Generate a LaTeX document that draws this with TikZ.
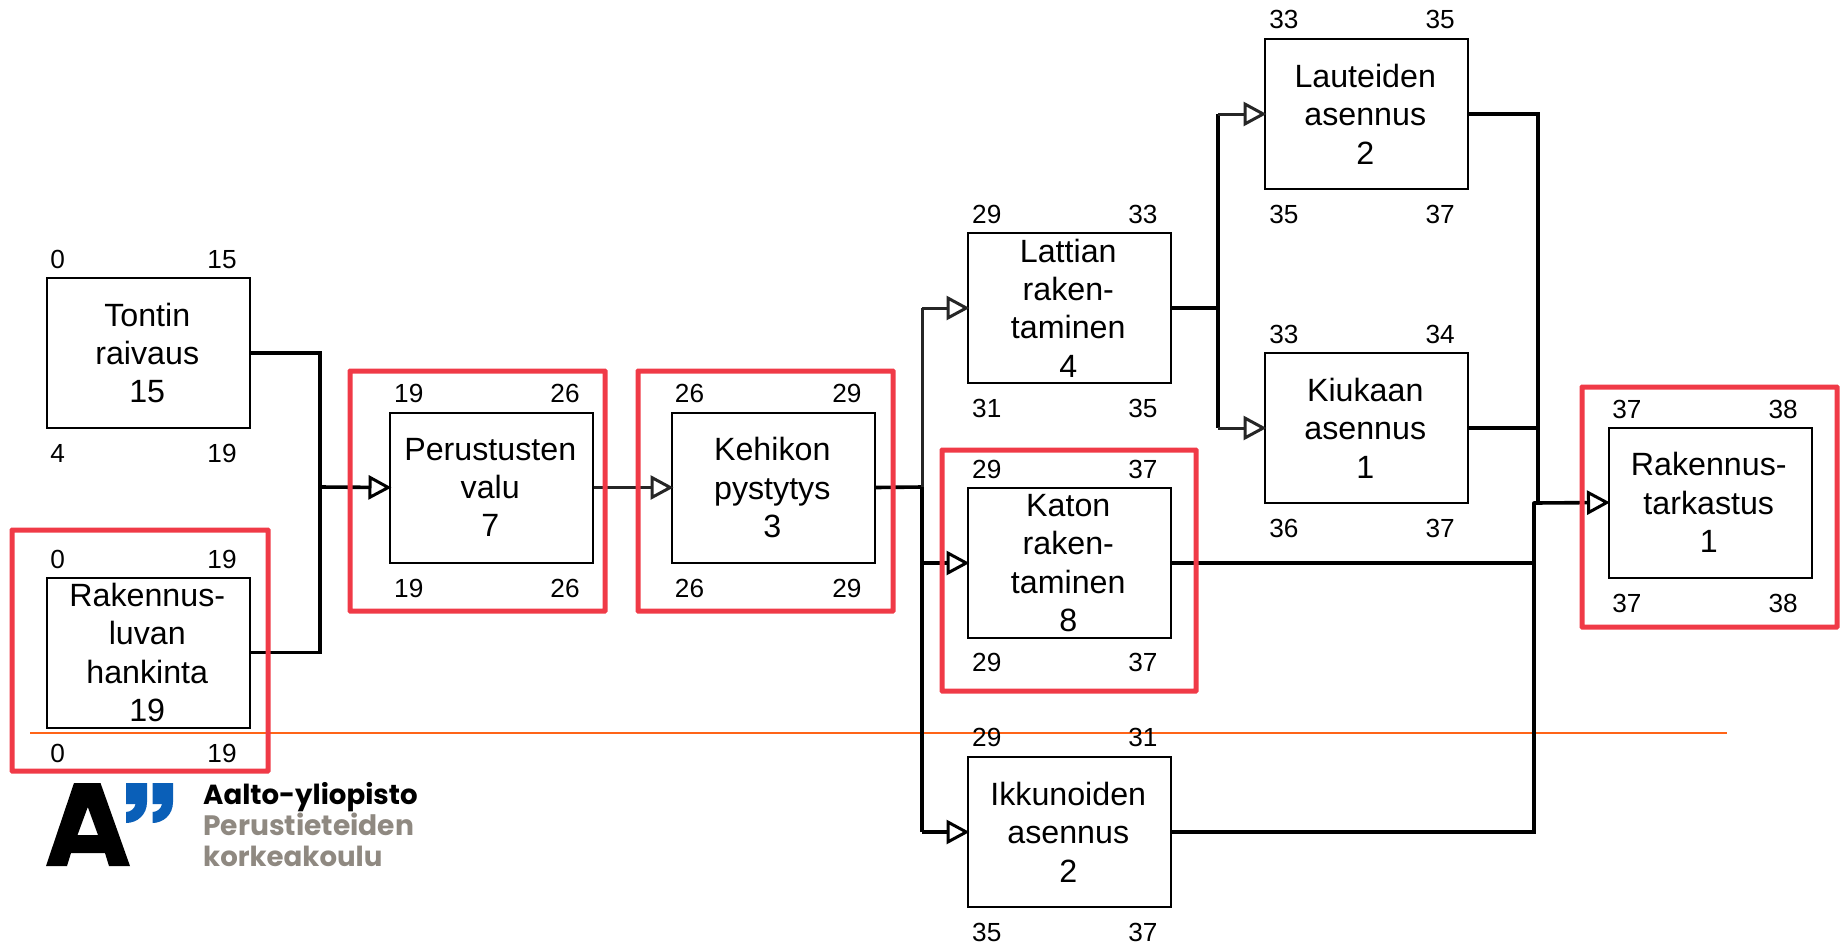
\documentclass[tikz,border=0pt]{standalone}
\usepackage{fontspec}
\setmainfont{Liberation Sans}
\newfontfamily\logofont{Poppins}
\usetikzlibrary{arrows.meta}
\definecolor{redframe}{HTML}{F03A47}
\definecolor{orangeline}{HTML}{FF6418}
\definecolor{aaltoblue}{HTML}{0A5FB8}
\definecolor{aaltogrey}{HTML}{8F8981}
\newcommand{\shiftl}[1]{\hspace*{-2.5pt}#1}
\tikzset{
  task/.style={draw=black,line width=2,fill=white,minimum width=203,minimum height=150,inner sep=0,align=center,font=\fontsize{32.2}{38.4}\selectfont},
  numlab/.style={inner sep=0,font=\fontsize{26.2}{30}\selectfont},
  wire/.style={draw=black,line width=3.6},
  thinwire/.style={draw=black!85,line width=3},
  arr/.style={shorten >=-2.5pt,-{Triangle[length=23,width=24,fill=white,line width=3]}},
  frame/.style={draw=redframe,line width=5,rounded corners=0.5,inner sep=0},
  logotext/.style={inner sep=0,anchor=base west,font=\logofont\bfseries\fontsize{27.6}{30}\selectfont},
}
\begin{document}
\begin{tikzpicture}[x=1pt,y=-1pt]
\useasboundingbox (0,0) rectangle (1842,945);
% orange rule
\coordinate (ruleL) at (30,733);
\coordinate (ruleR) at (1727,733);
\draw[orangeline,line width=2.8] (ruleL) -- (ruleR);
% junctions
\coordinate (j1) at (320,487);
\coordinate (j2) at (922,487);
\coordinate (j3) at (1218,308);
\coordinate (j4) at (1538,428);
\coordinate (j5) at (1534,503);
% boxes
\node[task] (tontin) at (148.5,353) {\shiftl{Tontin}\\\shiftl{raivaus}\\\shiftl{15}};
\node[task] (luvan) at (148.5,652.5) {\shiftl{Rakennus-}\\\shiftl{luvan}\\\shiftl{hankinta}\\\shiftl{19}};
\node[task] (perus) at (491.5,487.5) {\shiftl{Perustusten}\\\shiftl{valu}\\\shiftl{7}};
\node[task] (kehikko) at (773.5,487.5) {\shiftl{Kehikon}\\\shiftl{pystytys}\\\shiftl{3}};
\node[task] (lattia) at (1069.5,308) {\shiftl{Lattian}\\\shiftl{raken-}\\\shiftl{taminen}\\\shiftl{4}};
\node[task] (katto) at (1069.5,563) {\shiftl{Katon}\\\shiftl{raken-}\\\shiftl{taminen}\\\shiftl{8}};
\node[task] (ikkuna) at (1069.5,832) {\shiftl{Ikkunoiden}\\\shiftl{asennus}\\\shiftl{2}};
\node[task] (laude) at (1366.5,114) {\shiftl{Lauteiden}\\\shiftl{asennus}\\\shiftl{2}};
\node[task] (kiuas) at (1366.5,428) {\shiftl{Kiukaan}\\\shiftl{asennus}\\\shiftl{1}};
\node[task] (tark) at (1710,502.5) {\shiftl{Rakennus-}\\\shiftl{tarkastus}\\\shiftl{1}};
% wires
\draw[wire,line cap=round] (tontin.east) -| (j1);
\draw[wire,line cap=round] (luvan.east) -| (j1);
\draw[wire,arr] (j1) -- (perus.west);
\draw[thinwire,arr] (perus.east) -- (kehikko.west);
\draw[wire,line cap=round] (kehikko.east) -- (j2);
\draw[thinwire] (j2) -- (j2 |- lattia.west);
\draw[wire] (j2) -- (j2 |- ikkuna.west);
\draw[thinwire,arr] (j2 |- lattia.west) -- (lattia.west);
\draw[wire,arr] (j2 |- katto.west) -- (katto.west);
\draw[wire,arr] (j2 |- ikkuna.west) -- (ikkuna.west);
\draw[wire,line cap=round] (lattia.east) -- (j3);
\draw[wire] (j3 |- laude.west) -- (j3 |- kiuas.west);
\draw[thinwire,arr] (j3 |- laude.west) -- (laude.west);
\draw[thinwire,arr] (j3 |- kiuas.west) -- (kiuas.west);
\draw[wire,line cap=round] (laude.east) -- (j4 |- laude.east) -- (j4);
\draw[wire,line cap=round] (kiuas.east) -- (j4 |- kiuas.east);
\draw[wire] (j4) -- (j4 |- j5);
\draw[wire,arr] (j5) -- (tark.west);
\draw[wire,line cap=round] (katto.east) -- (j5 |- katto.east);
\draw[wire,line cap=round] (ikkuna.east) -- (j5 |- ikkuna.east) -- (j5);
% small numbers
\begin{scope}[x=1.1747pt,y=-1.1747pt]
\node[numlab] (a1) at (49,221) {0};
\node[numlab] (a2) at (189,221) {15};
\node[numlab] (a3) at (49,386) {4};
\node[numlab] (a4) at (189,386) {19};
\node[numlab] (b1) at (49,476) {0};
\node[numlab] (b2) at (189,476) {19};
\node[numlab] (b3) at (49,641) {0};
\node[numlab] (b4) at (189,641) {19};
\node[numlab] (c1) at (348,335) {19};
\node[numlab] (c2) at (481,335) {26};
\node[numlab] (c3) at (348,501) {19};
\node[numlab] (c4) at (481,501) {26};
\node[numlab] (d1) at (587,335) {26};
\node[numlab] (d2) at (721,335) {29};
\node[numlab] (d3) at (587,501) {26};
\node[numlab] (d4) at (721,501) {29};
\node[numlab] (e1) at (840,183) {29};
\node[numlab] (e2) at (973,183) {33};
\node[numlab] (e3) at (840,348) {31};
\node[numlab] (e4) at (973,348) {35};
\node[numlab] (f1) at (840,400) {29};
\node[numlab] (f2) at (973,400) {37};
\node[numlab] (f3) at (840,564) {29};
\node[numlab] (f4) at (973,564) {37};
\node[numlab] (g1) at (840,628) {29};
\node[numlab] (g2) at (973,628) {31};
\node[numlab] (g3) at (840,794) {35};
\node[numlab] (g4) at (973,794) {37};
\node[numlab] (h1) at (1093,17) {33};
\node[numlab] (h2) at (1226,17) {35};
\node[numlab] (h3) at (1093,183) {35};
\node[numlab] (h4) at (1226,183) {37};
\node[numlab] (i1) at (1093,285) {33};
\node[numlab] (i2) at (1226,285) {34};
\node[numlab] (i3) at (1093,450) {36};
\node[numlab] (i4) at (1226,450) {37};
\node[numlab] (k1) at (1385,349) {37};
\node[numlab] (k2) at (1518,349) {38};
\node[numlab] (k3) at (1385,514) {37};
\node[numlab] (k4) at (1518,514) {38};
\end{scope}
% red frames
\node[frame,minimum width=256,minimum height=241] (fr1) at (140,650.5) {};
\node[frame,minimum width=255,minimum height=240] (fr2) at (477.5,491) {};
\node[frame,minimum width=255,minimum height=240] (fr3) at (765.5,491) {};
\node[frame,minimum width=254,minimum height=241] (fr4) at (1069,570.5) {};
\node[frame,minimum width=255,minimum height=240] (fr5) at (1709.5,507) {};
% logo
\fill[black,even odd rule] (46,866) -- (74,783) -- (100.5,783) -- (130,866) -- (109,866) -- (105,853) -- (71,853) -- (67,866) -- cycle
  (77.5,835) -- (98,835) -- (87.8,807) -- cycle;
\fill[aaltoblue] (126,783) -- (147,783) -- (147,802) .. controls (147,815) and (137,823) .. (126,823) -- (126,812) .. controls (131,812) and (135,808) .. (135.5,804) -- (126,804) -- cycle;
\fill[aaltoblue] (152.5,783) -- (173,783) -- (173,802) .. controls (173,815) and (163,823) .. (152.5,823) -- (152.5,812) .. controls (157.5,812) and (161.5,808) .. (162,804) -- (152.5,804) -- cycle;
\node[logotext,text=black] (l1) at (203,804) {Aalto-yliopisto};
\node[logotext,text=aaltogrey,font=\logofont\bfseries\fontsize{28.1}{30}\selectfont] (l2) at (203,835) {Perustieteiden};
\node[logotext,text=aaltogrey] (l3) at (203,866) {korkeakoulu};
\end{tikzpicture}
\end{document}
